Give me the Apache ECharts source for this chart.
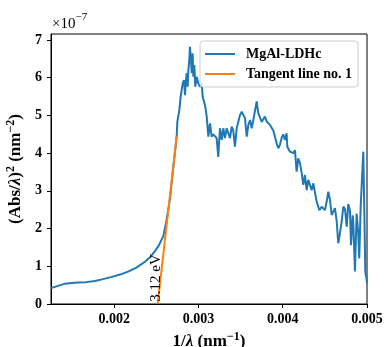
<!DOCTYPE html>
<html>
<head>
<meta charset="utf-8">
<script src="https://cdn.jsdelivr.net/npm/echarts@6/dist/echarts.min.js"></script>
<style>html,body{margin:0;padding:0;background:#fff}#c{width:384px;height:347px}</style>
</head>
<body>
<div id="c"></div>
<script>
// x = 1/lambda (nm^-1), y = (Abs/lambda)^2 in units of 1e-7 nm^-2
const curveX = [
0.001250,0.001333,0.001416,0.001499,0.001570,0.001665,0.001772,0.001867,0.001974,0.002069,
0.002164,0.002259,0.002365,0.002425,0.002484,0.002520,0.002544,0.002583,0.002615,0.002642,
0.002662,0.002698,0.002742,0.002749,0.002773,0.002789,0.002813,0.002828,0.002840,0.002852,
0.002860,0.002872,0.002879,0.002891,0.002899,0.002911,0.002920,0.002931,0.002939,0.002951,
0.002962,0.002979,0.002998,0.003018,0.003038,0.003050,0.003069,0.003081,0.003098,0.003117,
0.003137,0.003157,0.003176,0.003196,0.003216,0.003235,0.003255,0.003276,0.003295,0.003315,
0.003335,0.003354,0.003374,0.003394,0.003413,0.003433,0.003454,0.003473,0.003493,0.003513,
0.003532,0.003552,0.003573,0.003592,0.003612,0.003632,0.003651,0.003671,0.003691,0.003710,
0.003730,0.003750,0.003769,0.003789,0.003809,0.003849,0.003869,0.003888,0.003908,0.003928,
0.003947,0.003967,0.003987,0.004006,0.004026,0.004046,0.004054,0.004086,0.004125,0.004145,
0.004165,0.004184,0.004205,0.004225,0.004244,0.004264,0.004284,0.004303,0.004323,0.004344,
0.004363,0.004383,0.004403,0.004434,0.004462,0.004481,0.004501,0.004521,0.004541,0.004561,
0.004581,0.004600,0.004620,0.004640,0.004659,0.004679,0.004700,0.004719,0.004739,0.004759,
0.004778,0.004798,0.004810,0.004830,0.004837,0.004857,0.004877,0.004896,0.004908,0.004925,
0.004937,0.004956,0.004968,0.004980,0.004996,0.005000
];
const curveY = [
0.42,0.48,0.54,0.56,0.57,0.58,0.61,0.66,0.72,0.78,
0.86,0.96,1.12,1.24,1.40,1.52,1.62,1.80,2.15,2.50,
2.80,3.55,4.46,4.83,5.15,5.50,5.85,5.94,5.54,5.94,
6.12,5.76,6.16,6.47,6.82,6.47,6.12,6.65,6.03,6.34,
5.76,6.03,5.85,5.76,5.85,5.50,5.50,5.23,4.97,4.44,
4.79,4.44,4.50,4.48,4.40,3.90,4.66,4.35,4.66,4.40,
4.66,4.70,4.40,4.70,4.60,4.17,4.66,4.83,5.01,5.10,
5.06,4.93,4.44,4.75,4.88,4.66,4.88,4.88,5.37,5.06,
5.01,4.83,4.83,4.97,4.84,4.75,4.79,4.60,4.60,4.26,
4.13,4.22,4.40,4.50,4.35,4.53,4.17,4.04,4.00,4.08,
3.51,3.86,3.73,3.47,3.16,3.42,3.02,3.29,3.24,3.02,
3.20,3.20,2.71,2.49,2.58,2.54,2.49,2.71,2.98,2.76,
2.36,2.45,2.54,2.20,1.61,1.88,2.20,2.58,2.52,2.05,
2.65,2.47,1.56,2.35,2.18,0.86,2.40,1.88,1.21,2.58,
3.15,4.04,2.50,0.86,0.64,0.55
];
const tangentX = [0.002516, 0.002742];
const tangentY = [0, 4.46];
const gapLabel = '3.12 eV';
const xTicks = [0.002, 0.003, 0.004, 0.005];
const yTicks = [0, 1, 2, 3, 4, 5, 6, 7];
const seriesNames = ['MgAl-LDHc', 'Tangent line no. 1'];

const FONT = '"Liberation Serif", "DejaVu Serif", serif';
const titleRich = {
  b: {fontFamily: FONT, fontWeight: 'bold', fontSize: 17, color: '#000', lineHeight: 22, verticalAlign: 'middle'},
  i: {fontFamily: FONT, fontWeight: 'bold', fontStyle: 'italic', fontSize: 17, color: '#000', lineHeight: 22, verticalAlign: 'middle'},
  s: {fontFamily: FONT, fontWeight: 'bold', fontSize: 12, color: '#000', lineHeight: 22, verticalAlign: 'top'}
};
const chart = echarts.init(document.getElementById('c'), null, {renderer: 'canvas'});
chart.setOption({
  animation: false,
  backgroundColor: '#fff',
  grid: {left: 51, right: 17, top: 34, bottom: 43, containLabel: false, outerBoundsMode: 'none',
    show: true, borderColor: '#000', borderWidth: 1, backgroundColor: 'transparent'},
  xAxis: {
    type: 'value', min: 0.00125, max: 0.005,
    name: '{b|1/}{i|λ}{b| (nm}{s|−1}{b|)}', nameLocation: 'middle', nameGap: 20,
    nameTextStyle: {rich: titleRich},
    axisLine: {show: true, lineStyle: {color: '#000', width: 1}},
    axisTick: {show: true, inside: false, length: 4, lineStyle: {color: '#000'}, customValues: xTicks},
    axisLabel: {fontFamily: FONT, fontWeight: 'bold', fontSize: 14, color: '#000', margin: 8, customValues: xTicks,
      formatter: v => v.toFixed(3)},
    splitLine: {show: false}
  },
  yAxis: {
    type: 'value', min: 0, max: 7.16,
    name: '{b|(Abs/}{i|λ}{b|)}{s|2}{b| (nm}{s|−2}{b|)}', nameLocation: 'middle', nameGap: 17, nameRotate: 90,
    nameTextStyle: {rich: titleRich},
    axisLine: {show: true, lineStyle: {color: '#000', width: 1}},
    axisTick: {show: true, inside: false, length: 4, lineStyle: {color: '#000'}, customValues: yTicks},
    axisLabel: {fontFamily: FONT, fontWeight: 'bold', fontSize: 14, color: '#000', margin: 9, customValues: yTicks},
    splitLine: {show: false}
  },
  legend: {
    orient: 'vertical', left: 200, top: 41,
    data: seriesNames.map(n => ({name: n, icon: 'rect'})),
    itemWidth: 30, itemHeight: 2, itemGap: 6,
    padding: [6, 6, 6, 5],
    backgroundColor: 'rgba(255,255,255,0.8)', borderColor: '#ccc', borderWidth: 1, borderRadius: 3,
    textStyle: {fontFamily: FONT, fontWeight: 'bold', fontSize: 14, color: '#000', padding: [0, 0, 0, 6], lineHeight: 14}
  },
  graphic: [{
    type: 'text', left: 52, top: 12,
    style: {text: '{b|×10}{s|−7}', rich: {
      b: {fontFamily: FONT, fontSize: 15, fill: '#000', lineHeight: 20, verticalAlign: 'bottom'},
      s: {fontFamily: FONT, fontSize: 11, fill: '#000', lineHeight: 20, verticalAlign: 'top'}
    }}
  }],
  series: [{
    name: seriesNames[0], type: 'line', showSymbol: false, symbol: 'none',
    lineStyle: {color: '#1f77b4', width: 2}, itemStyle: {color: '#1f77b4'},
    data: curveX.map((x, i) => [x, curveY[i]]), clip: true, z: 2
  }, {
    name: seriesNames[1], type: 'line', showSymbol: false, symbol: 'none',
    lineStyle: {color: '#ff7f0e', width: 2}, itemStyle: {color: '#ff7f0e'},
    data: tangentX.map((x, i) => [x, tangentY[i]]), clip: true, z: 3,
    markPoint: {
      symbol: 'circle', symbolSize: 0,
      data: [{coord: [tangentX[0], tangentY[0]],
        label: {show: true, formatter: gapLabel, rotate: 90, position: 'inside', offset: [26, -2],
          fontFamily: FONT, fontSize: 15, color: '#000'}}]
    }
  }]
});
</script>
</body>
</html>
